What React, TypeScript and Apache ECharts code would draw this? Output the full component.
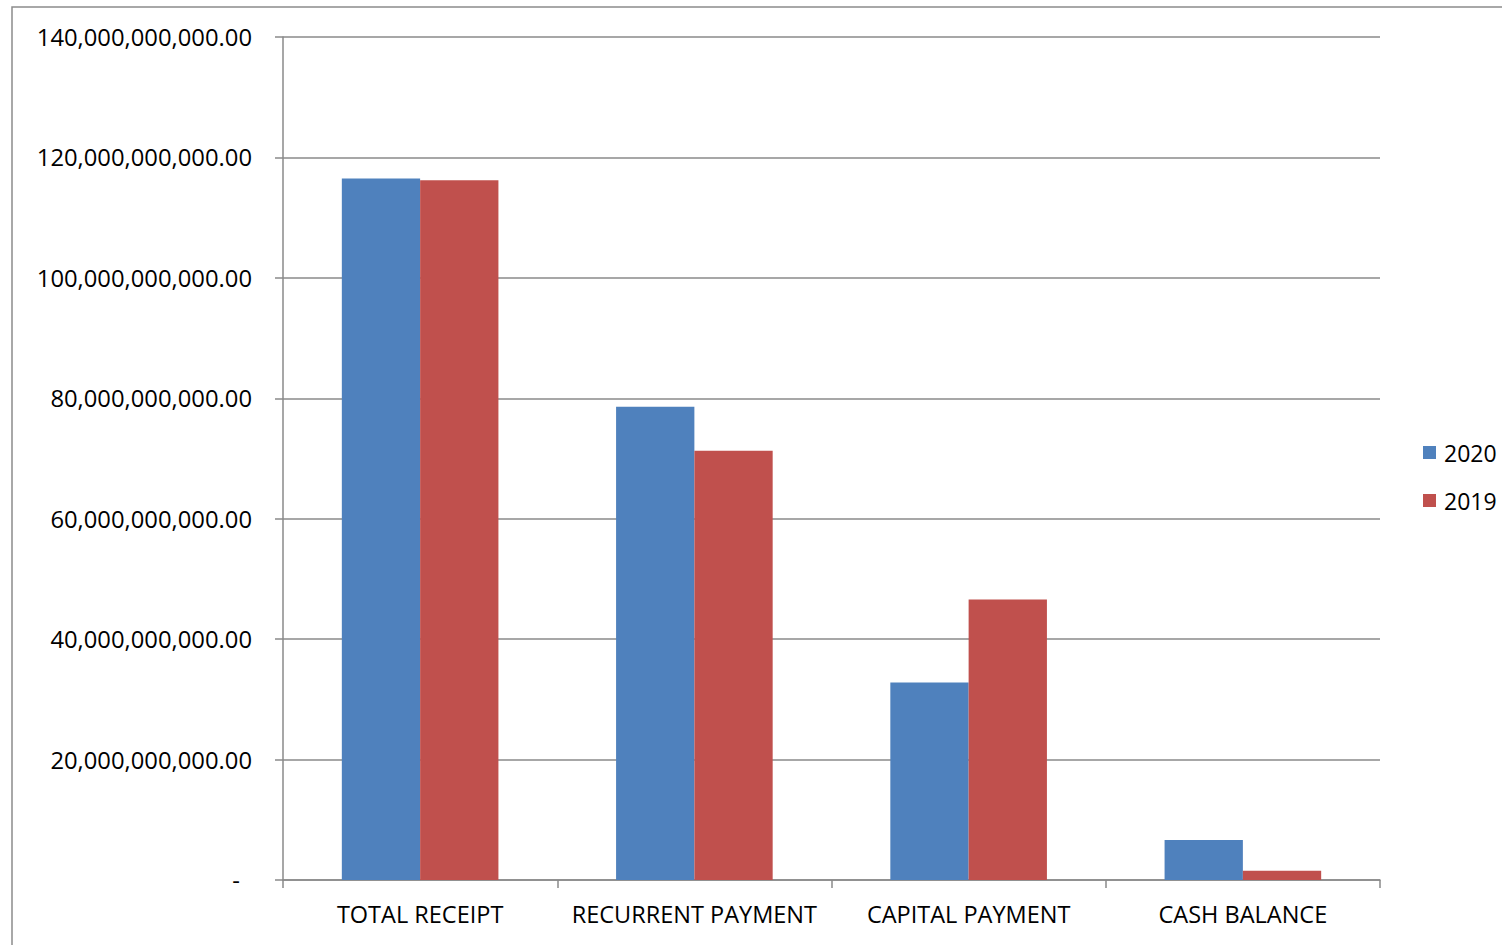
import React, { useEffect, useRef } from "react";
import * as echarts from "echarts";

const categories = ["TOTAL RECEIPT", "RECURRENT PAYMENT", "CAPITAL PAYMENT", "CASH BALANCE"];
const series2020 = [116.5e9, 78.6e9, 32.8e9, 6.64e9];
const series2019 = [116.2e9, 71.3e9, 46.6e9, 1.55e9];
const seriesNames = ["2020", "2019"];
const colors = ["#4F81BD", "#C0504D"];

const FONT = "'Open Sans', 'Noto Sans', sans-serif";

function fmt(v: number): string {
  if (v === 0) return "{z|-}";
  return v.toLocaleString("en-US", { minimumFractionDigits: 2, maximumFractionDigits: 2 });
}

export default function App() {
  const ref = useRef<HTMLDivElement>(null);
  useEffect(() => {
    if (!ref.current) return;
    const chart = echarts.init(ref.current, undefined, { renderer: "svg" });
    chart.setOption({
      animation: false,
      backgroundColor: "#ffffff",
      textStyle: { fontFamily: FONT },
      graphic: [
        {
          type: "rect",
          shape: { x: 12, y: 7, width: 1600, height: 1000 },
          style: { fill: "none", stroke: "#8c8c8c", lineWidth: 1.5 },
          silent: true,
        },
      ],
      grid: { left: 283, right: 122, top: 37, bottom: 65, containLabel: false },
      legend: {
        orient: "vertical",
        left: 1423,
        top: 441,
        padding: 0,
        itemWidth: 13,
        itemHeight: 13,
        itemGap: 25,
        icon: "rect",
        textStyle: { fontFamily: FONT, fontSize: 23, color: "#000", padding: [0, 0, 0, 3] },
        data: seriesNames,
      },
      xAxis: {
        type: "category",
        data: categories,
        boundaryGap: true,
        axisLine: { show: true, lineStyle: { color: "#8a8a8a", width: 1.5 } },
        axisTick: { show: true, interval: 0, length: 8, lineStyle: { color: "#8a8a8a", width: 1.5 } },
        axisLabel: { interval: 0, margin: 22, fontFamily: FONT, fontSize: 23.5, color: "#000" },
      },
      yAxis: {
        type: "value",
        min: 0,
        max: 140e9,
        interval: 20e9,
        axisLine: { show: true, lineStyle: { color: "#8a8a8a", width: 1.5 } },
        axisTick: { show: true, length: 8, lineStyle: { color: "#8a8a8a", width: 1.5 } },
        splitLine: { show: true, lineStyle: { color: "#8a8a8a", width: 1.5 } },
        axisLabel: {
          margin: 31,
          fontFamily: FONT,
          fontSize: 23.8,
          color: "#000",
          formatter: fmt,
          rich: { z: { fontFamily: FONT, fontSize: 23.8, color: "#000", padding: [0, 12, 0, 0] } },
        },
      },
      series: [
        {
          name: seriesNames[0],
          type: "bar",
          data: series2020,
          itemStyle: { color: colors[0] },
          barGap: "0%",
          barCategoryGap: "42.9%",
        },
        {
          name: seriesNames[1],
          type: "bar",
          data: series2019,
          itemStyle: { color: colors[1] },
          barGap: "0%",
          barCategoryGap: "42.9%",
        },
      ],
    });
    return () => chart.dispose();
  }, []);
  return (
    <div style={{ position: "fixed", left: 0, top: 0, width: 1502, height: 945, background: "#fff" }}>
      <div ref={ref} style={{ width: 1502, height: 945 }} />
    </div>
  );
}
